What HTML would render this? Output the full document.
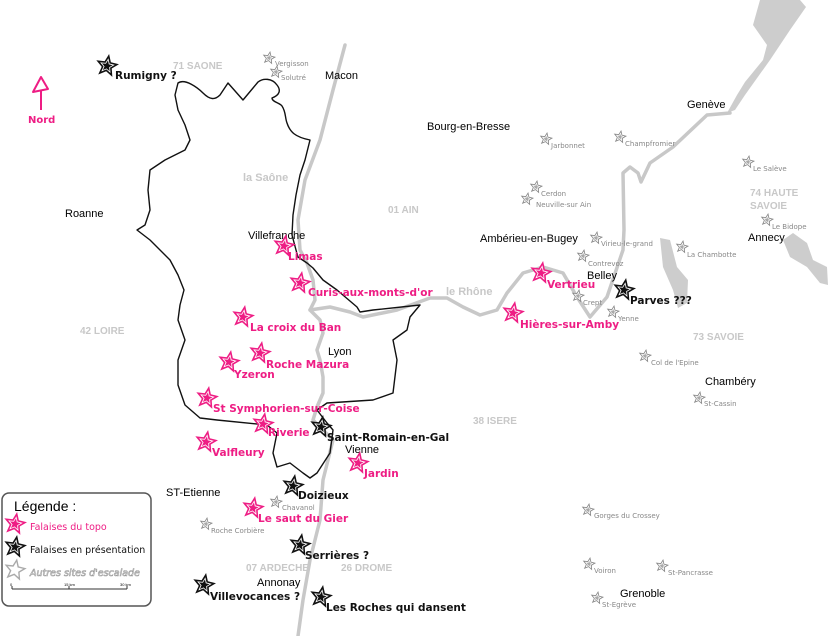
<!DOCTYPE html>
<html><head><meta charset="utf-8"><style>
html,body{margin:0;padding:0;background:#fff;width:829px;height:636px;overflow:hidden}
svg{display:block}
.c{font-family:"Liberation Sans",sans-serif;font-size:11px;fill:#000}
.d{font-family:"Liberation Sans",sans-serif;font-size:10px;font-weight:bold;fill:#c8c8c8}
.p{font-family:"DejaVu Sans",sans-serif;font-size:10.5px;font-weight:bold;fill:#ee1d84}
.b{font-family:"DejaVu Sans",sans-serif;font-size:10.5px;font-weight:bold;fill:#111}
.s{font-family:"DejaVu Sans",sans-serif;font-size:7px;fill:#888}
</style></head><body>
<svg width="829" height="636" viewBox="0 0 829 636" xmlns="http://www.w3.org/2000/svg">
<defs>
<symbol id="st" viewBox="-10 -10 20 20" overflow="visible">
<polygon points="0,-10 2.6,-3.6 9.5,-3.1 4.2,1.4 5.9,8.1 0,4.4 -5.9,8.1 -4.2,1.4 -9.5,-3.1 -2.6,-3.6" transform="rotate(10)"/>
</symbol>
<g id="pk"><use href="#st" x="-10" y="-10" width="20" height="20" fill="#fff" stroke="#ee1d84" stroke-width="1.6"/><use href="#st" x="-5" y="-5" width="10" height="10" fill="#ee1d84" stroke="#ee1d84" stroke-width="1"/></g>
<g id="bk"><use href="#st" x="-10" y="-10" width="20" height="20" fill="#fff" stroke="#111" stroke-width="1.6"/><use href="#st" x="-5" y="-5" width="10" height="10" fill="#111" stroke="#111" stroke-width="1"/></g>
<g id="gr"><use href="#st" x="-6" y="-6" width="12" height="12" fill="#fff" stroke="#888" stroke-width="1.4"/><use href="#st" x="-3" y="-3" width="6" height="6" fill="#aaa"/></g>
</defs>
<!-- lakes -->
<g fill="#cdcdcd">
<polygon points="727,113 737,95 745,82 763,60 767,45 753,25 760,0 800,0 806,7 790,30 770,60 745,95 735,110"/>
<polygon points="660,238 670,240 677,267 688,280 687,303 678,308 673,290 663,267"/>
<polygon points="783,240 793,233 807,243 813,260 827,267 828,285 820,283 807,267 790,257"/>
</g>
<!-- rivers -->
<g fill="none" stroke="#c8c8c8" stroke-width="3.5" stroke-linejoin="round" stroke-linecap="round">
<path d="M345,45 L333,90 L320,140 L305,180 L298,220 L300,250 L307,263 L313,280 L315,300 L310,310 L320,320 L323,333 L317,350 L320,360 L323,377 L323,393 L317,407 L313,420 L333,440 L323,480 L320,520 L310,560 L303,600 L298,636"/>
<path d="M310,310 L330,307 L350,312 L363,317 L397,310 L430,298 L447,298 L463,307 L480,315 L497,310 L507,293 L523,273 L543,267 L563,273 L577,297 L590,317 L607,297 L623,250 L624,230 L623,173 L630,167 L638,173 L641,182 L650,163 L673,147 L707,115 L730,113"/>
</g>
<!-- boundary -->
<path fill="none" stroke="#111" stroke-width="1.4" stroke-linejoin="round" d="M178,83 C185,78 198,88 203,93 C210,100 215,100 220,95 L228,83 L243,100 L258,82 C263,78 272,78 277,85 C281,90 280,95 272,98 C272,102 280,103 282,106 C286,112 285,118 287,123 C290,132 295,137 310,140 L305,160 L300,175 L296,195 L293,215 L292,235 L296,250 L298,257 L307,263 L313,268 L323,280 L337,290 L357,307 L360,312 L373,310 L420,305 L410,317 L407,330 L393,340 L397,360 L393,393 L373,400 L327,403 L317,410 L327,423 L333,430 L330,453 L317,473 L310,478 L303,473 L290,463 L277,467 L273,453 L277,433 L267,425 L217,420 L200,418 L185,405 L178,385 L178,360 L185,340 L178,320 L180,305 L184,290 L178,275 L170,260 L160,250 L150,240 L137,230 L145,225 L150,210 L148,190 L150,170 L165,160 L185,150 L190,140 L185,125 L178,110 L175,95 Z"/>
<!-- north arrow -->
<g stroke="#ee1d84" stroke-width="2" fill="none" stroke-linejoin="round"><polygon points="41,77 33,92 48,89"/><line x1="41" y1="91" x2="41" y2="110"/></g>
<text x="28" y="123" class="p" style="font-size:10px">Nord</text>
<!-- department / river labels -->
<text x="173" y="69" class="d">71 SAONE</text>
<text x="243" y="181" class="d" style="font-size:11px">la Saône</text>
<text x="388" y="213" class="d">01 AIN</text>
<text x="446" y="295" class="d" style="font-size:11px">le Rhône</text>
<text x="750" y="196" class="d">74 HAUTE</text>
<text x="750" y="209" class="d">SAVOIE</text>
<text x="80" y="334" class="d">42 LOIRE</text>
<text x="693" y="340" class="d">73 SAVOIE</text>
<text x="473" y="424" class="d">38 ISERE</text>
<text x="246" y="571" class="d">07 ARDECHE</text>
<text x="341" y="571" class="d">26 DROME</text>
<!-- cities -->
<text x="325" y="79" class="c">Macon</text>
<text x="687" y="108" class="c">Genève</text>
<text x="427" y="130" class="c">Bourg-en-Bresse</text>
<text x="65" y="217" class="c">Roanne</text>
<text x="248" y="239" class="c">Villefranche</text>
<text x="748" y="241" class="c">Annecy</text>
<text x="480" y="242" class="c">Ambérieu-en-Bugey</text>
<text x="587" y="279" class="c">Belley</text>
<text x="328" y="355" class="c">Lyon</text>
<text x="705" y="385" class="c">Chambéry</text>
<text x="345" y="453" class="c">Vienne</text>
<text x="166" y="496" class="c">ST-Etienne</text>
<text x="257" y="586" class="c">Annonay</text>
<text x="620" y="597" class="c">Grenoble</text>
<!-- grey sites -->
<use href="#gr" x="269" y="58"/><text x="275" y="66" class="s">Vergisson</text>
<use href="#gr" x="276" y="72"/><text x="281" y="80" class="s">Solutré</text>
<use href="#gr" x="546" y="139"/><text x="551" y="148" class="s">Jarbonnet</text>
<use href="#gr" x="620" y="137"/><text x="625" y="146" class="s">Champfromier</text>
<use href="#gr" x="748" y="162"/><text x="753" y="171" class="s">Le Salève</text>
<use href="#gr" x="536" y="187"/><text x="541" y="196" class="s">Cerdon</text>
<use href="#gr" x="527" y="199"/><text x="536" y="207" class="s">Neuville-sur Ain</text>
<use href="#gr" x="767" y="220"/><text x="772" y="229" class="s">Le Bidope</text>
<use href="#gr" x="596" y="238"/><text x="601" y="246" class="s">Virieu-le-grand</text>
<use href="#gr" x="682" y="247"/><text x="687" y="257" class="s">La Chambotte</text>
<use href="#gr" x="583" y="256"/><text x="588" y="266" class="s">Contrevoz</text>
<use href="#gr" x="578" y="296"/><text x="583" y="305" class="s">Crept</text>
<use href="#gr" x="613" y="312"/><text x="618" y="321" class="s">Yenne</text>
<use href="#gr" x="645" y="356"/><text x="651" y="365" class="s">Col de l'Epine</text>
<use href="#gr" x="699" y="398"/><text x="704" y="406" class="s">St-Cassin</text>
<use href="#gr" x="276" y="502"/><text x="282" y="510" class="s">Chavanol</text>
<use href="#gr" x="588" y="510"/><text x="594" y="518" class="s">Gorges du Crossey</text>
<use href="#gr" x="206" y="524"/><text x="211" y="533" class="s">Roche Corbière</text>
<use href="#gr" x="589" y="564"/><text x="594" y="573" class="s">Voiron</text>
<use href="#gr" x="662" y="566"/><text x="668" y="575" class="s">St-Pancrasse</text>
<use href="#gr" x="597" y="598"/><text x="602" y="607" class="s">St-Egrève</text>
<!-- pink sites -->
<use href="#pk" x="284" y="246"/><text x="288" y="260" class="p">Limas</text>
<use href="#pk" x="541" y="273"/><text x="547" y="288" class="p">Vertrieu</text>
<use href="#pk" x="300" y="283"/><text x="308" y="296" class="p">Curis-aux-monts-d'or</text>
<use href="#pk" x="513" y="313"/><text x="520" y="328" class="p">Hières-sur-Amby</text>
<use href="#pk" x="243" y="317"/><text x="250" y="331" class="p">La croix du Ban</text>
<use href="#pk" x="260" y="353"/><text x="266" y="368" class="p">Roche Mazura</text>
<use href="#pk" x="229" y="362"/><text x="234" y="378" class="p">Yzeron</text>
<use href="#pk" x="207" y="398"/><text x="213" y="412" class="p">St Symphorien-sur-Coise</text>
<use href="#pk" x="263" y="424"/><text x="268" y="436" class="p">Riverie</text>
<use href="#pk" x="206" y="442"/><text x="212" y="456" class="p">Valfleury</text>
<use href="#pk" x="358" y="463"/><text x="364" y="477" class="p">Jardin</text>
<use href="#pk" x="253" y="508"/><text x="258" y="522" class="p">Le saut du Gier</text>
<!-- black sites -->
<use href="#bk" x="107" y="66"/><text x="115" y="79" class="b">Rumigny ?</text>
<use href="#bk" x="624" y="290"/><text x="630" y="304" class="b">Parves ???</text>
<use href="#bk" x="321" y="427"/><text x="327" y="441" class="b">Saint-Romain-en-Gal</text>
<use href="#bk" x="293" y="486"/><text x="298" y="499" class="b">Doizieux</text>
<use href="#bk" x="300" y="545"/><text x="305" y="559" class="b">Serrières ?</text>
<use href="#bk" x="204" y="585"/><text x="210" y="600" class="b">Villevocances ?</text>
<use href="#bk" x="321" y="597"/><text x="326" y="611" class="b">Les Roches qui dansent</text>
<!-- legend -->
<rect x="2" y="493" width="149" height="113" rx="7" fill="#fff" stroke="#555" stroke-width="1.5"/>
<text x="14" y="511" style="font-family:'Liberation Sans',sans-serif;font-size:14px">Légende :</text>
<use href="#pk" x="15" y="524"/><text x="30" y="530" class="p" style="font-size:9.5px;font-weight:normal">Falaises du topo</text>
<use href="#bk" x="15" y="547"/><text x="30" y="553" class="b" style="font-size:9.5px;font-weight:normal">Falaises en présentation</text>
<g transform="translate(15,570)"><use href="#st" x="-10" y="-10" width="20" height="20" fill="#fff" stroke="#aaa" stroke-width="1.4"/></g>
<text x="30" y="576" style="font-family:'DejaVu Sans',sans-serif;font-size:9.5px;fill:#fff;stroke:#999;stroke-width:0.6;font-style:italic">Autres sites d'escalade</text>
<line x1="12" y1="589" x2="127" y2="589" stroke="#333" stroke-width="1"/>
<line x1="12" y1="586" x2="12" y2="589" stroke="#333"/><line x1="69" y1="586" x2="69" y2="589" stroke="#333"/><line x1="127" y1="586" x2="127" y2="589" stroke="#333"/>
<text x="10" y="586" style="font-family:'Liberation Sans',sans-serif;font-size:4px">0</text>
<text x="64" y="586" style="font-family:'Liberation Sans',sans-serif;font-size:4px">15 km</text>
<text x="120" y="586" style="font-family:'Liberation Sans',sans-serif;font-size:4px">30 km</text>
</svg>
</body></html>
